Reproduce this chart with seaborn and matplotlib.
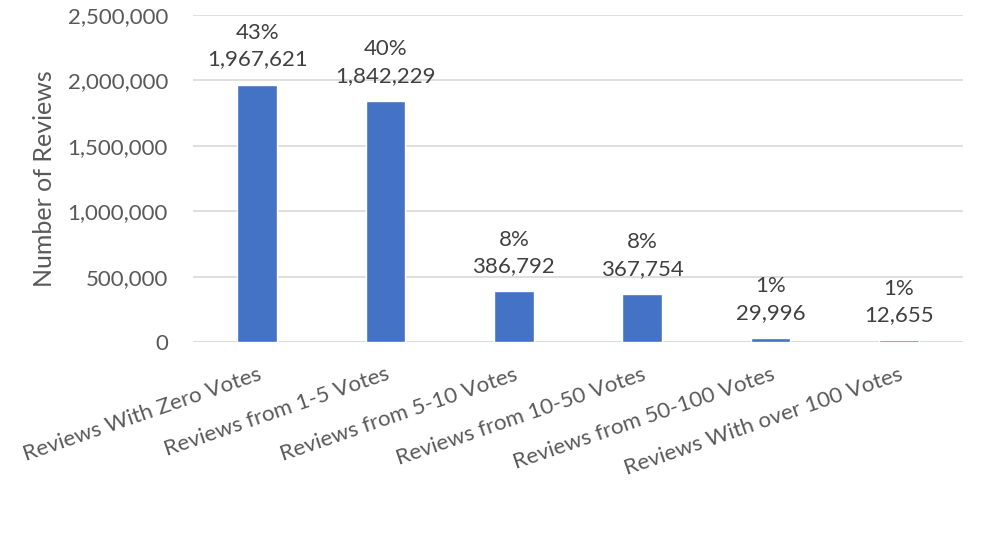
import matplotlib
matplotlib.use("Agg")
import matplotlib.pyplot as plt
import seaborn as sns
import pandas as pd
from matplotlib.ticker import FuncFormatter

categories = ["Reviews With Zero Votes", "Reviews from 1-5 Votes", "Reviews from 5-10 Votes",
              "Reviews from 10-50 Votes", "Reviews from 50-100 Votes", "Reviews With over 100 Votes"]
values = [1967621, 1842229, 386792, 367754, 29996, 12655]
percents = ["43%", "40%", "8%", "8%", "1%", "1%"]
y_ticks = [0, 500000, 1000000, 1500000, 2000000, 2500000]

sns.set_theme(style="white")
plt.rcParams['font.family'] = ['Lato', 'DejaVu Sans']

df = pd.DataFrame({"cat": categories, "val": values})

fig = plt.figure(figsize=(9.82, 5.33), dpi=100)
ax = fig.add_axes([193/982, 1 - 342/533, (963-193)/982, (342-15)/533])

sns.barplot(data=df, x="cat", y="val", color="#4472C4", width=0.31, ax=ax, saturation=1)

ax.set_ylim(0, 2500000)
ax.set_yticks(y_ticks)
ax.yaxis.set_major_formatter(FuncFormatter(lambda v, p: f"{int(v):,}"))
ax.grid(axis="y", color="#D9D9D9", linewidth=1.2)
ax.set_axisbelow(True)
for s in ax.spines.values():
    s.set_visible(False)
ax.axhline(0, color="#D9D9D9", linewidth=1.2, zorder=0.5)

ax.tick_params(axis="y", length=0, pad=18, labelsize=16, labelcolor="#595959")
ax.tick_params(axis="x", length=0, pad=16, labelsize=16, labelcolor="#595959")
ax.set_xticks(range(len(categories)))
ax.set_xticklabels(categories, rotation=19, ha="right", rotation_mode="anchor")
ax.set_xlabel("")
ax.set_ylabel("Number of Reviews", fontsize=18, color="#595959")
ax.yaxis.set_label_coords(-(193-56)/770, 0.5)

for i, (v, pct) in enumerate(zip(values, percents)):
    ax.annotate(f"{pct}\n{v:,}", xy=(i, v), xytext=(0, 11), textcoords="offset points",
                ha="center", va="bottom", fontsize=16, color="#404040", linespacing=1.4)

fig.savefig("out.png", dpi=100)
